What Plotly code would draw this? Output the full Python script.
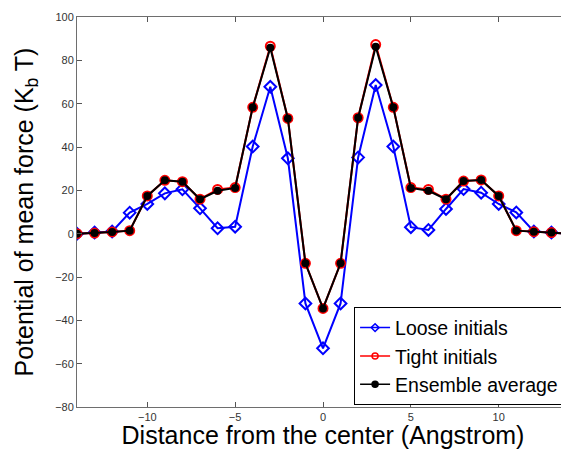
import plotly.graph_objects as go

x = list(range(-14, 15))
loose = [0, 0.5, 1, 9.7, 13.7, 18.6, 20.5, 11.7, 2.5, 3.2, 40.2, 67.8, 34.8, -32.2, -52.9,
         -32.2, 35.2, 68.6, 40.2, 3.0, 1.7, 11.4, 20.6, 18.9, 13.7, 9.8, 1.0, 0.5, 0]
tight = [0, 0.3, 0.8, 1.4, 17.4, 24.6, 24.0, 15.9, 20.4, 21.3, 58.3, 86.5, 53.2, -13.7, -34.5,
         -13.7, 53.5, 87.3, 58.3, 21.3, 20.4, 15.9, 24.3, 24.8, 17.4, 1.4, 0.9, 0.5, 0]
ensemble = [0, 0.3, 0.8, 1.4, 17.4, 24.6, 24.0, 15.9, 19.8, 21.1, 58.3, 85.8, 53.2, -13.7, -34.5,
            -13.7, 53.5, 86.3, 58.3, 21.1, 19.8, 15.9, 24.3, 24.8, 17.4, 1.4, 0.9, 0.5, 0]
names = ["Loose initials", "Tight initials", "Ensemble average"]
colors = ["#0000ff", "#ff0000", "#000000"]

fig = go.Figure()
fig.add_trace(go.Scatter(x=x, y=loose, mode="lines+markers", name=names[0], showlegend=False,
                         line=dict(color=colors[0], width=2),
                         marker=dict(symbol="diamond-open", size=9, color=colors[0],
                                     line=dict(width=2, color=colors[0]))))
fig.add_trace(go.Scatter(x=x, y=tight, mode="lines+markers", name=names[1], showlegend=False,
                         line=dict(color=colors[1], width=2),
                         marker=dict(symbol="circle-open", size=9, color=colors[1],
                                     line=dict(width=2, color=colors[1]))))
fig.add_trace(go.Scatter(x=x, y=ensemble, mode="lines+markers", name=names[2], showlegend=False,
                         line=dict(color=colors[2], width=2),
                         marker=dict(symbol="circle", size=8, color=colors[2])))

# legend entries (thinner lines / smaller markers, like the reference legend)
legend_symbols = ["diamond-open", "circle-open", "circle"]
for n, c, s in zip(names, colors, legend_symbols):
    fig.add_trace(go.Scatter(x=[None], y=[None], mode="lines+markers", name=n,
                             line=dict(color=c, width=1.5),
                             marker=dict(symbol=s, size=6, color=c, line=dict(width=1.5, color=c))))

axis_common = dict(showline=True, linecolor="#6e6e6e", linewidth=1, mirror="allticks",
                   ticks="inside", ticklen=5, tickcolor="#555555", showgrid=False,
                   zeroline=False, tickfont=dict(family="Liberation Sans", size=11, color="#333333"))

fig.update_xaxes(range=[-14, 14], tickvals=[-10, -5, 0, 5, 10],
                 title=dict(text="Distance from the center (Angstrom)",
                            font=dict(family="Liberation Sans", size=25, color="#000000"),
                            standoff=0),
                 **axis_common)
fig.update_yaxes(range=[-80, 100], tickvals=[-80, -60, -40, -20, 0, 20, 40, 60, 80, 100],
                 title=dict(text="Potential of mean force (K<sub>b</sub> T)",
                            font=dict(family="Liberation Sans", size=25, color="#000000"),
                            standoff=14),
                 **axis_common)

fig.update_layout(
    width=561, height=441,
    margin=dict(l=69, r=0, t=9, b=42, autoexpand=False),
    plot_bgcolor="white", paper_bgcolor="white",
    font=dict(family="Liberation Sans"),
    legend=dict(x=0.99, y=0.004, xanchor="right", yanchor="bottom",
                bgcolor="white", bordercolor="#000000", borderwidth=1,
                font=dict(family="Liberation Sans", size=19.5, color="#000000"),
                tracegroupgap=0),
)

fig.write_html("out.html")
